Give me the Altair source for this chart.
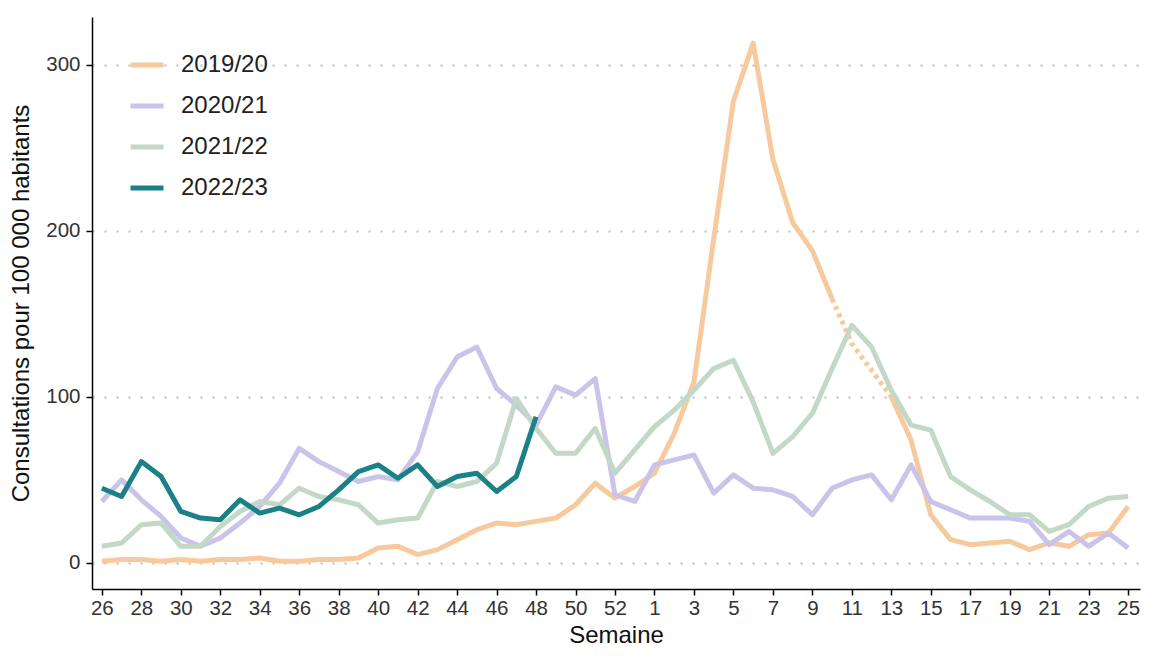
import altair as alt
import pandas as pd

# x categories: surveillance weeks (week 26 -> week 25 of following year, incl. week 53)
weeks = list(range(26, 54)) + list(range(1, 26))
x_tick_positions = list(range(0, 53, 2))
y_ticks = [0, 100, 200, 300]

seasons = ["2019/20", "2020/21", "2021/22", "2022/23"]
colors = ["#F7CA9E", "#CAC4EA", "#C3D8C6", "#1A8186"]

s1920 = [1, 2, 2, 1, 2, 1, 2, 2, 3, 1, 1, 2, 2, 3, 9, 10, 5, 8, 14, 20,
         24, 23, 25, 27, 35, 48, 39, 46, 54, 78, 109, 195, 278, 313, 243, 205,
         188, 159, None, None, 100, 74, 29, 14, 11, 12, 13, 8, 12, 10, 17, 18, 34]
s2021 = [37, 50, 38, 28, 15, 10, 15, 24, 34, 48, 69, 61, 55, 49, 52, 50, 67, 105,
         124, 130, 105, 95, 83, 106, 101, 111, 41, 37, 59, 62, 65, 42, 53, 45, 44,
         40, 29, 45, 50, 53, 38, 59, 37, 32, 27, 27, 27, 25, 11, 19, 10, 18, 9]
s2122 = [10, 12, 23, 24, 10, 10, 22, 31, 37, 35, 45, 40, 38, 35, 24, 26, 27, 49,
         46, 49, 60, 99, 81, 66, 66, 81, 54, 68, 82, 92, 104, 117, 122, 97, 66,
         76, 90, 117, 143, 130, 104, 83, 80, 52, 44, 37, 29, 29, 19, 23, 34, 39, 40]
s2223 = [45, 40, 61, 52, 31, 27, 26, 38, 30, 33, 29, 34, 44, 55, 59, 51, 59, 46,
         52, 54, 43, 52, 88]

# 2019/20 incomplete period (dotted)
gap_weeks = [10, 11, 12, 13]
gap_values = [159, 132, 116, 100]

rows = []
for season, vals in zip(seasons, [s1920, s2021, s2122, s2223]):
    seg = 0
    prev_none = False
    for i, v in enumerate(vals):
        if v is None:
            prev_none = True
            continue
        if prev_none:
            seg += 1
            prev_none = False
        rows.append(dict(idx=i, week=weeks[i], value=v, season=season,
                         seg=f"{season}-{seg}"))
df = pd.DataFrame(rows)
gap_df = pd.DataFrame({"idx": [weeks.index(w) for w in gap_weeks],
                       "value": gap_values})

label_expr = "[" + ",".join(str(w) for w in weeks) + "][datum.value]"

x_scale = alt.Scale(domain=[-0.5, 52.6], nice=False, zero=False)
y_scale = alt.Scale(domain=[-15.7, 328.7], nice=False, zero=False)

x_axis = alt.Axis(values=x_tick_positions, labelExpr=label_expr, title="Semaine",
                  grid=False, tickSize=6, labelPadding=3, titlePadding=5,
                  labelFlush=False, labelOverlap=False)
y_axis = alt.Axis(values=y_ticks, title="Consultations pour 100 000 habitants",
                  grid=True, gridDash=[2, 10], gridColor="#BDBDBD", gridWidth=2,
                  tickSize=6, labelPadding=6, titlePadding=12)

dotted = alt.Chart(gap_df).mark_line(
    strokeWidth=5, strokeDash=[4, 4], color=colors[0]
).encode(
    x=alt.X("idx:Q", scale=x_scale, axis=x_axis),
    y=alt.Y("value:Q", scale=y_scale, axis=y_axis),
)

lines = alt.Chart(df).mark_line(strokeWidth=5, strokeJoin="round").encode(
    x=alt.X("idx:Q", scale=x_scale, axis=x_axis),
    y=alt.Y("value:Q", scale=y_scale, axis=y_axis),
    color=alt.Color("season:N", scale=alt.Scale(domain=seasons, range=colors),
                    legend=alt.Legend(title=None, orient="none", legendX=36, legendY=29,
                                      symbolType="stroke", symbolSize=1089,
                                      symbolStrokeWidth=5, labelFontSize=24,
                                      labelOffset=15, rowPadding=10, padding=0,
                                      labelFont="Liberation Sans", labelColor="#222")),
    detail="seg:N",
)

chart = alt.layer(dotted, lines).properties(
    width=1048, height=572,
    autosize=alt.AutoSizeParams(type="none"),
    padding={"left": 84, "top": 9, "right": 17, "bottom": 60},
).configure_view(stroke=None).configure_axis(
    domainColor="black", domainWidth=1.5, tickColor="black", tickWidth=1.5,
    labelFont="Liberation Sans", titleFont="Liberation Sans",
    labelColor="#333333", titleColor="#111111", labelFontSize=20.5,
    titleFontSize=24, titleFontWeight="normal",
)

chart.save("out.html", embed_options={"renderer": "svg", "actions": False})
